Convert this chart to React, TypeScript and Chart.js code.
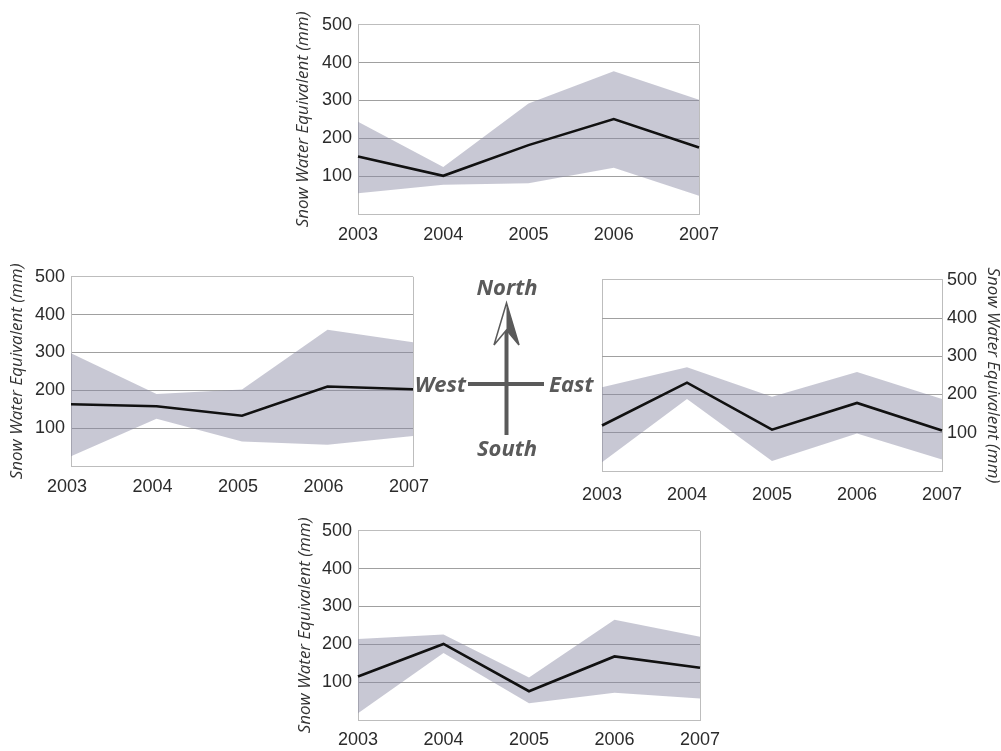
import React, { useEffect, useRef } from 'react';
import { Chart, registerables } from 'chart.js';

Chart.register(...registerables);
Chart.defaults.font.family = '"Liberation Sans", Arial, sans-serif';

// ---------- data ----------
const YEARS = ['2003', '2004', '2005', '2006', '2007'];
const Y_TICKS = [0, 100, 200, 300, 400, 500];
const Y_TITLE = 'Snow Water Equivalent (mm)';

const NORTH_MEAN = [152, 101, 182, 251, 176];
const NORTH_UPPER = [244, 124, 292, 377, 302];
const NORTH_LOWER = [55, 77, 81, 122, 48];

const WEST_MEAN = [163, 158, 133, 210, 203];
const WEST_UPPER = [298, 190, 202, 360, 327];
const WEST_LOWER = [26, 125, 65, 56, 79];

const EAST_MEAN = [119, 231, 108, 178, 106];
const EAST_UPPER = [219, 271, 194, 259, 188];
const EAST_LOWER = [23, 188, 26, 98, 30];

const SOUTH_MEAN = [115, 201, 76, 168, 138];
const SOUTH_UPPER = [214, 226, 112, 265, 220];
const SOUTH_LOWER = [18, 177, 44, 72, 57];

// ---------- style ----------
const BAND = 'rgba(133,134,160,0.45)';
const BORDER = '#bdbdbd';
const GRID = '#a0a0a0';
const TEXT = '#2b2b2b';
const COMPASS = '#5a5a5a';

type PanelProps = {
  mean: number[];
  upper: number[];
  lower: number[];
  x0: number;
  x1: number;
  y0: number;
  y1: number;
  side: 'left' | 'right';
  titleCx: number;
  xPad: number;
  yPad: number;
  labelOffset?: number;
};

function Panel(p: PanelProps) {
  const ref = useRef<HTMLCanvasElement>(null);
  const AXW = 70;
  const PADT = 12;
  const SIDEPAD = 45;
  const XH = 36;
  const plotW = p.x1 - p.x0;
  const plotH = p.y1 - p.y0;
  const width = AXW + plotW + SIDEPAD;
  const height = PADT + plotH + XH;
  const left = p.side === 'left' ? p.x0 - AXW : p.x0 - SIDEPAD;
  const top = p.y0 - PADT;

  useEffect(() => {
    const titleSize = 17;
    const lh = titleSize * 1.0;
    const tpad =
      p.side === 'left'
        ? p.titleCx - left - lh / 2
        : left + width - p.titleCx - lh / 2;
    const chart = new Chart(ref.current as HTMLCanvasElement, {
      type: 'line',
      data: {
        labels: YEARS,
        datasets: [
          {
            data: p.mean,
            borderColor: '#111111',
            borderWidth: 2.6,
            pointRadius: 0,
            fill: false,
            tension: 0,
          },
          {
            data: p.upper,
            borderColor: 'rgba(0,0,0,0)',
            borderWidth: 0,
            backgroundColor: BAND,
            pointRadius: 0,
            fill: '+1',
            tension: 0,
          },
          {
            data: p.lower,
            borderColor: 'rgba(0,0,0,0)',
            borderWidth: 0,
            pointRadius: 0,
            fill: false,
            tension: 0,
          },
        ],
      },
      options: {
        animation: false,
        responsive: false,
        maintainAspectRatio: false,
        layout: {
          padding:
            p.side === 'left'
              ? { left: 0, top: PADT, right: SIDEPAD, bottom: 0 }
              : { left: SIDEPAD, top: PADT, right: 0, bottom: 0 },
        },
        plugins: { legend: { display: false }, tooltip: { enabled: false } },
        scales: {
          x: {
            type: 'category',
            offset: false,
            grid: {
              color: (ctx: any) =>
                ctx.index === 0 || ctx.index === YEARS.length - 1 ? BORDER : 'rgba(0,0,0,0)',
              drawTicks: false,
            },
            border: { display: true, color: BORDER },
            ticks: {
              font: { size: 18 },
              color: TEXT,
              padding: p.xPad,
              maxRotation: 0,
              autoSkip: false,
              labelOffset: p.labelOffset || 0,
            },
            afterFit: (s: any) => {
              s.height = XH;
            },
          },
          y: {
            position: p.side,
            min: Y_TICKS[0],
            max: Y_TICKS[Y_TICKS.length - 1],
            afterBuildTicks: (s: any) => {
              s.ticks = Y_TICKS.map((v) => ({ value: v }));
            },
            ticks: {
              callback: (v: any) => (v === 0 ? '' : String(v)),
              font: { size: 18 },
              color: TEXT,
              padding: p.yPad,
            },
            grid: {
              color: (ctx: any) =>
                ctx.tick && (ctx.tick.value === 0 || ctx.tick.value === 500) ? BORDER : GRID,
              drawTicks: false,
            },
            border: { display: true, color: BORDER },
            title: {
              display: true,
              text: Y_TITLE,
              font: { family: '"Open Sans", sans-serif', style: 'italic', size: titleSize, lineHeight: 1 },
              color: '#333333',
              padding: { top: tpad, bottom: 0 },
            },
            afterFit: (s: any) => {
              s.width = AXW;
            },
          },
        },
      } as any,
    });
    return () => chart.destroy();
  }, []);

  return (
    <div style={{ position: 'absolute', left, top, width, height }}>
      <canvas ref={ref} width={width} height={height} style={{ width, height, display: 'block' }} />
    </div>
  );
}

function Compass() {
  const font = {
    fontFamily: '"Open Sans", sans-serif',
    fontStyle: 'italic',
    fontWeight: 700,
    fontSize: 22,
  } as React.CSSProperties;
  return (
    <svg
      width={1001}
      height={751}
      style={{ position: 'absolute', left: 0, top: 0, pointerEvents: 'none' }}
    >
      <line x1={468} y1={384} x2={544} y2={384} stroke={COMPASS} strokeWidth={4} />
      <line x1={506.5} y1={330} x2={506.5} y2={435} stroke={COMPASS} strokeWidth={4} />
      <polygon
        points="506.5,303 494,345 506.5,330 519,345"
        fill="#ffffff"
        stroke={COMPASS}
        strokeWidth={1.5}
        strokeLinejoin="miter"
      />
      <polygon points="506.5,303 506.5,330 519,345" fill={COMPASS} />
      <text x={507} y={295} textAnchor="middle" fill={COMPASS} style={font}>North</text>
      <text x={507} y={456} textAnchor="middle" fill={COMPASS} style={font}>South</text>
      <text x={466} y={392} textAnchor="end" fill={COMPASS} style={font}>West</text>
      <text x={549} y={392} textAnchor="start" fill={COMPASS} style={font}>East</text>
    </svg>
  );
}

export default function App() {
  return (
    <div
      style={{
        position: 'absolute',
        left: 0,
        top: 0,
        width: 1001,
        height: 751,
        overflow: 'hidden',
        background: '#ffffff',
      }}
    >
      <Panel mean={NORTH_MEAN} upper={NORTH_UPPER} lower={NORTH_LOWER}
        x0={358} x1={699} y0={20} y1={214} side="left" titleCx={303} xPad={10} yPad={6} />
      <Panel mean={WEST_MEAN} upper={WEST_UPPER} lower={WEST_LOWER}
        x0={71} x1={413} y0={272} y1={466} side="left" titleCx={17.5} xPad={10} yPad={6} labelOffset={-4} />
      <Panel mean={EAST_MEAN} upper={EAST_UPPER} lower={EAST_LOWER}
        x0={602} x1={942} y0={276} y1={471} side="right" titleCx={993} xPad={13} yPad={5} />
      <Panel mean={SOUTH_MEAN} upper={SOUTH_UPPER} lower={SOUTH_LOWER}
        x0={358} x1={700} y0={526} y1={720} side="left" titleCx={305} xPad={9} yPad={6} />
      <Compass />
    </div>
  );
}
